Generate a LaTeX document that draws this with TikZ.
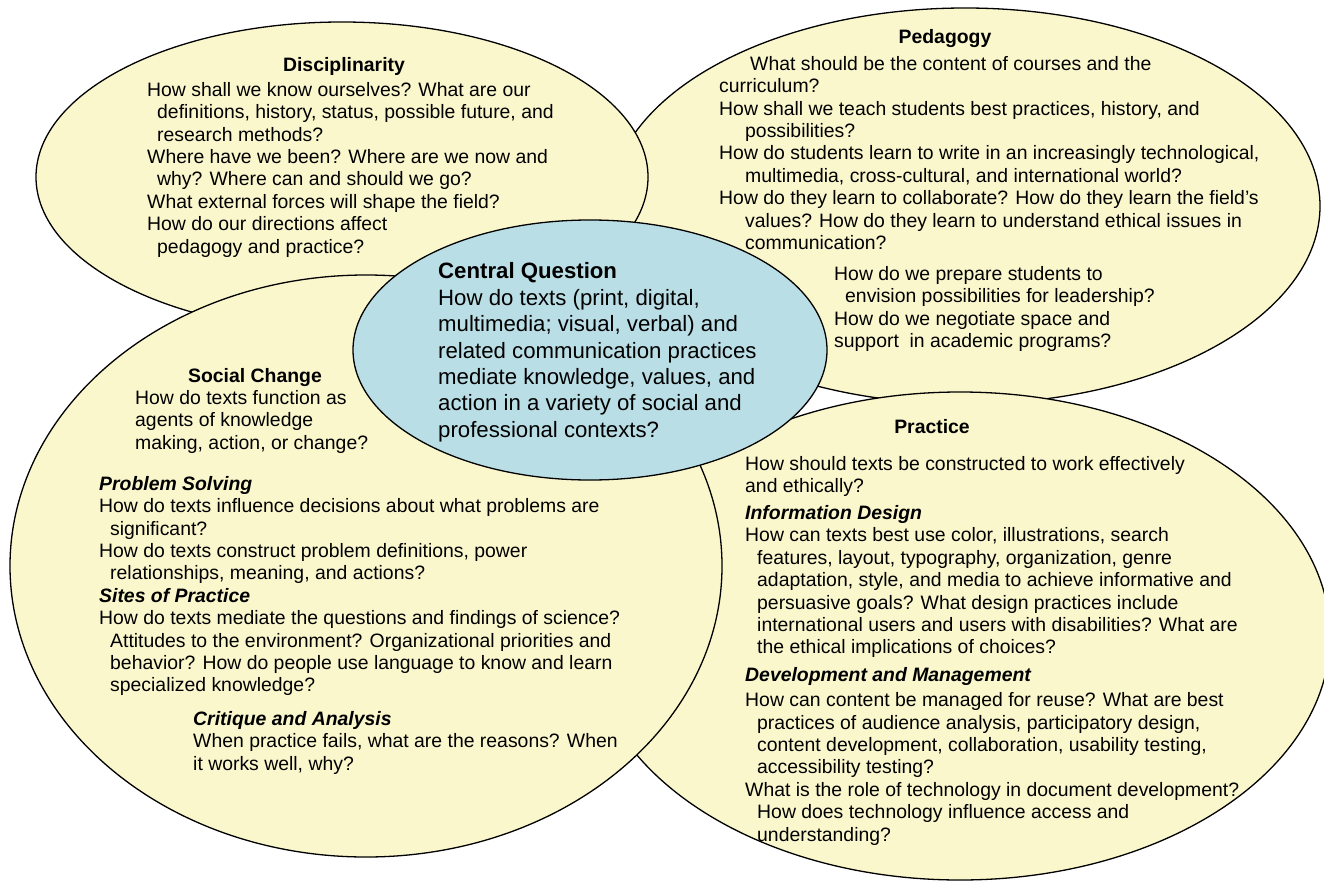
\documentclass[tikz,border=0pt]{standalone}
\usepackage{fontspec}
\setmainfont{Liberation Sans}
\usetikzlibrary{positioning}
\definecolor{cream}{HTML}{FBF7CD}
\definecolor{paleblue}{HTML}{BADEE5}

\begin{document}
\begin{tikzpicture}[x=1pt,y=-1pt,
 region/.style={draw=black,line width=1.3pt,fill=cream},
 core/.style={draw=black,line width=1.3pt,fill=paleblue},
 head/.style={inner sep=0pt,anchor=base,font=\fontsize{19.4}{22.4}\selectfont\bfseries},
 txt/.style={inner sep=0pt,anchor=north west,align=left,font=\fontsize{19.4}{22.4}\selectfont},
 bigtxt/.style={inner sep=0pt,anchor=north west,align=left,font=\fontsize{22.2}{26.4}\selectfont}]
 \useasboundingbox (0,0) rectangle (1324,888);
 % the five regions, back to front
 \draw[region] (965,206) ellipse [x radius=355pt,y radius=198pt];
 \draw[region] (342,177) ellipse [x radius=306pt,y radius=155pt];
 \draw[region] (960,636) ellipse [x radius=370pt,y radius=244pt];
 \draw[region] (366,566) ellipse [x radius=356pt,y radius=291pt];
 \draw[core] (590,350) ellipse [x radius=237pt,y radius=130pt];

 % Disciplinarity
 \node[head] (disc) at (344,72) {Disciplinarity};
 \node[txt] (disctxt) at (147,82) {How shall we know ourselves? What are our\\
  \hspace*{10pt}definitions, history, status, possible future, and\\
  \hspace*{10pt}research methods?\\
  Where have we been? Where are we now and\\
  \hspace*{10pt}why? Where can and should we go?\\
  What external forces will shape the field?\\
  How do our directions affect\\
  \hspace*{10pt}pedagogy and practice?};

 % Pedagogy
 \node[head] (ped) at (945,44) {Pedagogy};
 \node[txt] (pedtxt) at (719,56) {\hspace*{31pt}What should be the content of courses and the\\
  curriculum?\\
  How shall we teach students best practices, history, and\\
  \hspace*{26pt}possibilities?\\
  How do students learn to write in an increasingly technological,\\
  \hspace*{26pt}multimedia, cross-cultural, and international world?\\
  How do they learn to collaborate? How do they learn the field's\\
  \hspace*{26pt}values? How do they learn to understand ethical issues in\\
  \hspace*{26pt}communication?};
 \node[txt] (pedlead) at (834,266) {How do we prepare students to\\
  \hspace*{11pt}envision possibilities for leadership?\\
  How do we negotiate space and\\
  support~ in academic programs?};

 % Central Question
 \node[bigtxt] (central) at (438,262) {\textbf{Central Question}\\[0.6pt]
  How do texts (print, digital,\\
  multimedia; visual, verbal) and\\
  related communication practices\\
  mediate knowledge, values, and\\
  action in a variety of social and\\
  professional contexts?};

 % Social Change
 \node[head] (social) at (255,382) {Social Change};
 \node[txt] (socialtxt) at (135,390) {How do texts function as\\
  agents of knowledge\\
  making, action, or change?};
 \node[txt] (probtxt) at (99,476) {\textbf{\textit{Problem Solving}}\\
  How do texts influence decisions about what problems are\\
  \hspace*{11pt}significant?\\
  How do texts construct problem definitions, power\\
  \hspace*{11pt}relationships, meaning, and actions?\\
  \textbf{\textit{Sites of Practice}}\\
  How do texts mediate the questions and findings of science?\\
  \hspace*{11pt}Attitudes to the environment? Organizational priorities and\\
  \hspace*{11pt}behavior? How do people use language to know and learn\\
  \hspace*{11pt}specialized knowledge?};
 \node[txt] (crittxt) at (193,711) {\textbf{\textit{Critique and Analysis}}\\
  When practice fails, what are the reasons? When\\
  it works well, why?};

 % Practice
 \node[head] (prac) at (932,433) {Practice};
 \node[txt] (practxt) at (745,456) {How should texts be constructed to work effectively\\
  and ethically?\\[4.5pt]
  \textbf{\textit{Information Design}}\\
  How can texts best use color, illustrations, search\\
  \hspace*{12pt}features, layout, typography, organization, genre\\
  \hspace*{12pt}adaptation, style, and media to achieve informative and\\
  \hspace*{12pt}persuasive goals? What design practices include\\
  \hspace*{12pt}international users and users with disabilities? What are\\
  \hspace*{12pt}the ethical implications of choices?\\[5.5pt]
  \textbf{\textit{Development and Management}}\\[2.5pt]
  How can content be managed for reuse? What are best\\
  \hspace*{12pt}practices of audience analysis, participatory design,\\
  \hspace*{12pt}content development, collaboration, usability testing,\\
  \hspace*{12pt}accessibility testing?\\
  What is the role of technology in document development?\\
  \hspace*{12pt}How does technology influence access and\\
  \hspace*{12pt}understanding?};
\end{tikzpicture}
\end{document}
